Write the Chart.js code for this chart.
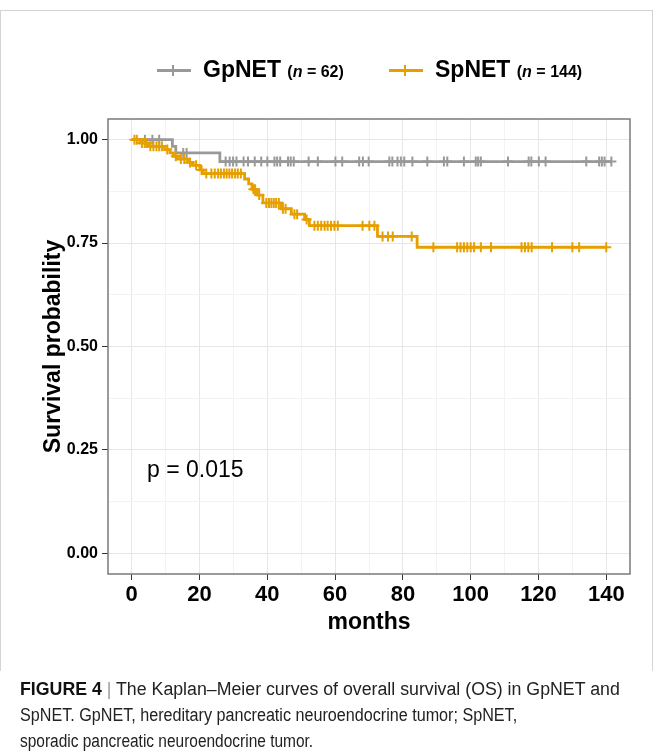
<!DOCTYPE html>
<html>
<head>
<meta charset="utf-8">
<script src="https://cdn.jsdelivr.net/npm/chart.js@4.4.1/dist/chart.umd.min.js"></script>
<style>
  body { margin: 0; background: #fff; font-family: "Liberation Sans", Arial, sans-serif; }
  #page { position: relative; width: 654px; height: 754px; overflow: hidden; }
  #frame { position: absolute; left: 0; top: 10px; width: 651px; height: 660px;
           border: 1px solid #d4d4d4; border-bottom: none; }
  #chartWrap { position: absolute; left: 0; top: 0; width: 654px; height: 680px; }
  .legend { position: absolute; top: 56px; left: 0; width: 654px; height: 28px; }
  .key { position: absolute; top: 13px; width: 34px; height: 3px; }
  .key i { position: absolute; left: 15px; top: -4px; width: 2px; height: 11px; }
  .lab { position: absolute; top: 0; font-weight: bold; font-size: 23px; color: #000; white-space: nowrap; }
  .lab small { font-size: 16px; }
  .caption { position: absolute; left: 20px; top: 676px; width: 640px; font-size: 18px; line-height: 26px; color: #222; }
  .caption div { white-space: nowrap; transform-origin: 0 50%; display: inline-block; }
  .caption b { color: #111; }
  .caption .bar { color: #999; }
</style>
</head>
<body>
<div id="page">
  <div id="frame"></div>
  <div id="chartWrap"><canvas id="kmChart" width="654" height="680"></canvas></div>
  <div class="legend">
    <div class="key" style="left:157px;background:#999999"><i style="background:#999999"></i></div>
    <div class="lab" style="left:203px">GpNET <small>(<i>n</i> = 62)</small></div>
    <div class="key" style="left:389px;background:#E69F00"><i style="background:#E69F00"></i></div>
    <div class="lab" style="left:435px">SpNET <small>(<i>n</i> = 144)</small></div>
  </div>
  <div class="caption">
    <div data-w="600"><b>FIGURE 4</b> <span class="bar">|</span> The Kaplan–Meier curves of overall survival (OS) in GpNET and</div><br>
    <div data-w="497">SpNET. GpNET, hereditary pancreatic neuroendocrine tumor; SpNET,</div><br>
    <div data-w="293">sporadic pancreatic neuroendocrine tumor.</div>
  </div>
</div>
<script>
// step points (time in months, survival probability)
const gpTimes = [0, 12.0, 13.0, 26.0, 141.5];
const gpSurv = [1.0, 0.984, 0.968, 0.947, 0.947];
const gpCensored = [3.9, 6.1, 8.1, 15.2, 16.2, 27.7, 28.9, 29.9, 30.9, 33.0, 34.3, 36.3, 38.2, 40.0,
    42.1, 42.9, 43.8, 46.1, 46.9, 47.8, 52.2, 54.9, 60.1, 62.1, 67.1, 68.2, 69.9, 76.0, 76.9, 78.4,
    79.4, 80.4, 82.8, 87.2, 92.1, 93.1, 98.0, 101.5, 102.2, 103.0, 111.0, 117.1, 117.9, 120.1, 122.1,
    134.1, 137.9, 138.7, 139.5, 141.5];

const spTimes = [0, 2.4, 4.9, 9.8, 11.3, 12.3, 13.7, 16.5, 18.0, 20.1, 21.1, 33.3, 34.5, 35.5, 37.0,
    38.7, 44.1, 47.1, 51.0, 52.4, 72.5, 84.2, 140.1];
const spSurv = [1.0, 0.992, 0.984, 0.976, 0.968, 0.960, 0.953, 0.945, 0.938, 0.927, 0.918, 0.905, 0.893,
    0.880, 0.866, 0.847, 0.833, 0.820, 0.807, 0.792, 0.766, 0.740, 0.740];
const spCensored = [0.8, 1.5, 3.0, 3.8, 4.4, 5.5, 6.4, 7.3, 8.1, 8.9, 10.5, 13.0, 14.5, 15.5, 17.2, 19.0,
    20.6, 22.0, 23.5, 24.5, 25.5, 26.3, 27.2, 28.0, 28.8, 29.6, 30.5, 31.3, 32.2, 35.9, 36.4, 37.6,
    39.7, 40.5, 41.2, 41.9, 42.6, 43.4, 44.6, 45.4, 48.0, 48.8, 51.6, 53.9, 54.9, 55.9, 56.9, 57.8,
    58.8, 59.8, 60.8, 68.1, 70.1, 71.6, 74.0, 75.6, 77.0, 82.6, 89, 96, 97, 98, 99, 100, 101, 103,
    106, 115, 116, 117, 118, 124, 130, 132, 140];

const xTicks = [0, 10, 20, 30, 40, 50, 60, 70, 80, 90, 100, 110, 120, 130, 140];
const yTicks = [0, 0.125, 0.25, 0.375, 0.5, 0.625, 0.75, 0.875, 1.0];
const pValueText = 'p = 0.015';

const GRAY = '#999999';
const ORANGE = '#E69F00';
const FONT = '"Liberation Sans", Arial, sans-serif';

// caption in the original is a condensed face: squeeze each line to its width
document.querySelectorAll('.caption div').forEach(el => {
    const w = el.getBoundingClientRect().width;
    el.style.transform = 'scaleX(' + (Number(el.dataset.w) / w).toFixed(3) + ')';
});

// survival at time t from the step table
function survAt(times, surv, t) {
    let s = surv[0];
    for (let i = 0; i < times.length; i++) {
        if (times[i] <= t) s = surv[i];
    }
    return s;
}

function curve(times, surv) {
    return times.map((t, i) => ({ x: t, y: surv[i] }));
}

function marks(times, surv, cens) {
    return cens.map(t => ({ x: t, y: survAt(times, surv, t) }));
}

const isMajorX = v => v % 20 === 0;
const isMajorY = v => Math.abs(v * 4 - Math.round(v * 4)) < 1e-9;

const panelBorder = {
    id: 'panelBorder',
    afterDraw(chart) {
        const { ctx, chartArea: a } = chart;
        ctx.save();
        ctx.strokeStyle = '#7a7a7a';
        ctx.lineWidth = 1.5;
        ctx.strokeRect(a.left, a.top, a.right - a.left, a.bottom - a.top);
        ctx.restore();
    }
};

const pLabel = {
    id: 'pLabel',
    afterDatasetsDraw(chart) {
        const { ctx, scales } = chart;
        ctx.save();
        ctx.font = '23px ' + FONT;
        ctx.fillStyle = '#000';
        ctx.textBaseline = 'middle';
        ctx.textAlign = 'left';
        ctx.fillText(pValueText, scales.x.getPixelForValue(4.5), scales.y.getPixelForValue(0.2));
        ctx.restore();
    }
};

const ctx = document.getElementById('kmChart').getContext('2d');
const kmChart = new Chart(ctx, {
    type: 'scatter',
    data: {
        datasets: [
            {
                label: 'SpNET censored',
                data: marks(spTimes, spSurv, spCensored),
                pointStyle: 'cross',
                pointRadius: 5,
                borderColor: ORANGE,
                borderWidth: 2,
                showLine: false,
                order: 1
            },
            {
                label: 'SpNET',
                data: curve(spTimes, spSurv),
                borderColor: ORANGE,
                borderWidth: 2.8,
                showLine: true,
                stepped: true,
                pointRadius: 0,
                order: 2
            },
            {
                label: 'GpNET censored',
                data: marks(gpTimes, gpSurv, gpCensored),
                pointStyle: 'cross',
                pointRadius: 5,
                borderColor: GRAY,
                borderWidth: 2,
                showLine: false,
                order: 3
            },
            {
                label: 'GpNET',
                data: curve(gpTimes, gpSurv),
                borderColor: GRAY,
                borderWidth: 2.8,
                showLine: true,
                stepped: true,
                pointRadius: 0,
                order: 4
            }
        ]
    },
    options: {
        responsive: false,
        animation: false,
        devicePixelRatio: 1,
        layout: { padding: { top: 119, left: 0, right: 24, bottom: 0 } },
        plugins: {
            legend: { display: false },
            tooltip: { enabled: false }
        },
        scales: {
            x: {
                type: 'linear',
                min: -7,
                max: 147,
                afterBuildTicks: s => { s.ticks = xTicks.map(v => ({ value: v })); },
                afterFit: s => { s.height = 106; },
                border: { display: false },
                grid: {
                    color: c => (c.tick && isMajorX(c.tick.value)) ? '#e6e6e6' : '#f3f3f3',
                    tickColor: c => (c.tick && isMajorX(c.tick.value)) ? '#333' : 'rgba(0,0,0,0)',
                    tickLength: 6,
                    lineWidth: 1
                },
                ticks: {
                    autoSkip: false,
                    maxRotation: 0,
                    padding: 2,
                    color: '#000',
                    font: { family: FONT, size: 22, weight: 'bold' },
                    callback: v => isMajorX(v) ? String(v) : ''
                },
                title: {
                    display: true,
                    text: 'months',
                    color: '#000',
                    font: { family: FONT, size: 23, weight: 'bold' },
                    padding: { top: 0, bottom: 44 }
                }
            },
            y: {
                type: 'linear',
                min: -0.05,
                max: 1.05,
                afterBuildTicks: s => { s.ticks = yTicks.map(v => ({ value: v })); },
                afterFit: s => { s.width = 108; },
                border: { display: false },
                grid: {
                    color: c => (c.tick && isMajorY(c.tick.value)) ? '#e6e6e6' : '#f3f3f3',
                    tickColor: c => (c.tick && isMajorY(c.tick.value)) ? '#333' : 'rgba(0,0,0,0)',
                    tickLength: 6,
                    lineWidth: 1
                },
                ticks: {
                    autoSkip: false,
                    padding: 4,
                    color: '#000',
                    font: { family: FONT, size: 16, weight: 'bold' },
                    callback: v => isMajorY(v) ? v.toFixed(2) : ''
                },
                title: {
                    display: true,
                    text: 'Survival probability',
                    color: '#000',
                    font: { family: FONT, size: 23, weight: 'bold' },
                    padding: { top: 40, bottom: 0 }
                }
            }
        }
    },
    plugins: [panelBorder, pLabel]
});
</script>
</body>
</html>
